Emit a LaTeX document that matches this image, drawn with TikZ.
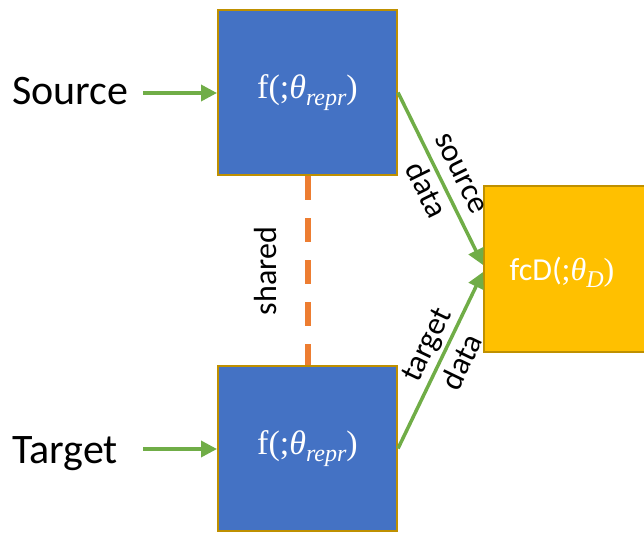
\documentclass[tikz,border=0pt]{standalone}
\usepackage[no-math]{fontspec}
\setmainfont{Carlito}
\newfontfamily\serifm{Liberation Serif}
\usetikzlibrary{arrows.meta}
\definecolor{boxblue}{HTML}{4472C4}
\definecolor{boxgold}{HTML}{BF9000}
\definecolor{boxyellow}{HTML}{FFC000}
\definecolor{arrgreen}{HTML}{70AD47}
\definecolor{dashorange}{HTML}{ED7D31}
\newcommand{\subtxt}[1]{\raisebox{-0.22em}{\fontsize{24}{24}\selectfont\itshape #1}}
\tikzset{
  bluebox/.style={draw=boxgold, fill=boxblue, line width=2pt, minimum width=179pt, minimum height=165pt, inner sep=0pt, text=white, font=\serifm\fontsize{34}{40}\selectfont},
  yellowbox/.style={draw=boxgold, fill=boxyellow, line width=2pt, minimum width=220pt, minimum height=166pt, inner sep=0pt},
  garrow/.style={draw=arrgreen, line width=3.5pt, -{Triangle[length=16pt,width=16pt]}},
  biglbl/.style={inner sep=0pt, font=\fontsize{42}{50}\selectfont, anchor=base west},
  lbl/.style={inner sep=0pt, align=center, font=\fontsize{32}{40}\selectfont},
  shareline/.style={draw=dashorange, line width=6pt, dash pattern=on 24pt off 18pt}
}
\begin{document}
\begin{tikzpicture}[x=1pt,y=-1pt]
\useasboundingbox (0,0) rectangle (644,532);
\clip (0,0) rectangle (644,532);
\node[bluebox] (f1) at (307.5,92.5) {\raisebox{-2pt}{f(;\textit{θ}\subtxt{repr})}};
\node[bluebox] (f2) at (307.5,448.5) {\raisebox{-3pt}{f(;\textit{θ}\subtxt{repr})}};
\node[yellowbox] (d) at (594,269) {};
\node[text=white, inner sep=0pt, font=\fontsize{32}{36}\selectfont] (dl) at (562,272) {fcD({\serifm ;\textit{θ}\subtxt{D})}};
\node[biglbl] (src) at (12,105) {Source};
\node[biglbl] (tgt) at (12,463) {Target};
\coordinate (srcend) at (143,93);
\coordinate (tgtend) at (143,449);
\draw[garrow] (srcend) -- (srcend -| f1.west);
\draw[garrow] (tgtend) -- (tgtend -| f2.west);
\draw[shareline] (f1.south) -- (f2.north);
\node[lbl, rotate=90] (sh) at (266,271) {shared};
\draw[garrow] (f1.east) -- node[sloped, pos=0.52, lbl] {source\\data} ([yshift=4pt]d.west);
\draw[garrow] (f2.east) -- node[sloped, pos=0.54, lbl] {target\\data} ([yshift=-3pt]d.west);
\end{tikzpicture}
\end{document}
